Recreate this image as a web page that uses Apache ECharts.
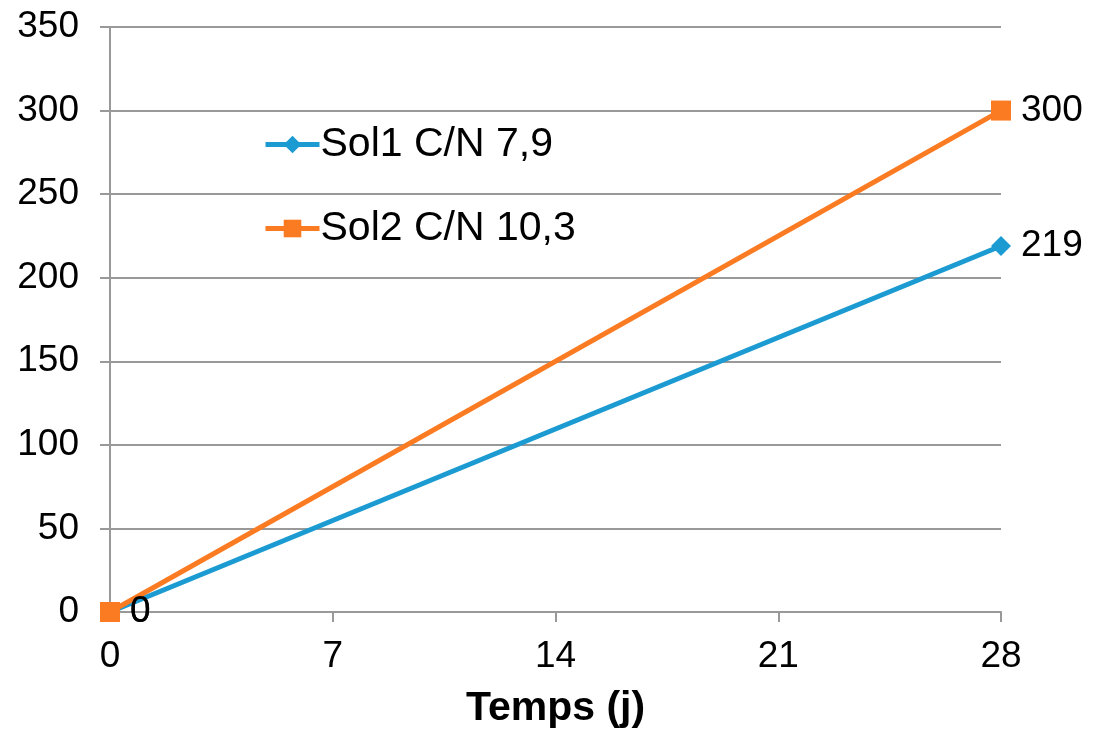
<!DOCTYPE html>
<html><head><meta charset="utf-8">
<script src="https://cdn.jsdelivr.net/npm/echarts@6/dist/echarts.min.js"></script>
<style>html,body{margin:0;padding:0;background:#fff;overflow:hidden}#c{width:1096px;height:734px}</style>
</head><body><div id="c"></div>
<script>
const days = [0, 28];
const sol1 = [0, 219];
const sol2 = [0, 300];
const seriesNames = ['Sol1 C/N 7,9', 'Sol2 C/N 10,3'];
const xTicks = [0, 7, 14, 21, 28];
const yTicks = [0, 50, 100, 150, 200, 250, 300, 350];
const xName = 'Temps (j)';

const font = 'Liberation Sans, Arial, sans-serif';
const chart = echarts.init(document.getElementById('c'));
const axisGray = '#999999';
chart.setOption({
  animation: false,
  grid: {left: 110, right: 95, top: 27, bottom: 122, containLabel: false, outerBoundsMode: 'none'},
  legend: {
    orient: 'vertical', left: 258, top: 119, itemGap: 43,
    itemWidth: 54, itemHeight: 22,
    lineStyle: {width: 5},
    textStyle: {fontFamily: font, fontSize: 41, color: '#000', padding: [0,0,0,-4]},
    data: seriesNames
  },
  xAxis: {
    type: 'value', min: xTicks[0], max: xTicks[xTicks.length-1], interval: 7,
    name: xName, nameLocation: 'middle', nameGap: 76,
    nameTextStyle: {fontFamily: font, fontSize: 41, fontWeight: 'bold', color: '#000'},
    axisLine: {show: true, lineStyle: {color: axisGray, width: 2}},
    axisTick: {show: true, length: 10, lineStyle: {color: axisGray, width: 2}},
    axisLabel: {fontFamily: font, fontSize: 37, color: '#000', margin: 26},
    splitLine: {show: false}
  },
  yAxis: {
    type: 'value', min: yTicks[0], max: yTicks[yTicks.length-1], interval: 50,
    axisLine: {show: true, lineStyle: {color: axisGray, width: 2}},
    axisTick: {show: true, length: 10, lineStyle: {color: axisGray, width: 2}},
    axisLabel: {fontFamily: font, fontSize: 37, color: '#000', margin: 31},
    splitLine: {show: true, lineStyle: {color: axisGray, width: 2}}
  },
  series: [
    {
      name: seriesNames[0], type: 'line',
      data: days.map((d,i)=>[d, sol1[i]]),
      symbol: 'diamond', symbolSize: 20,
      lineStyle: {color: '#1b9bd1', width: 5},
      itemStyle: {color: '#1b9bd1'},
      label: {show: true, position: 'right', distance: 10, fontFamily: font, fontSize: 37, color: '#000'},
      z: 2
    },
    {
      name: seriesNames[1], type: 'line',
      data: days.map((d,i)=>[d, sol2[i]]),
      symbol: 'rect', symbolSize: 20,
      lineStyle: {color: '#fb7b22', width: 5},
      itemStyle: {color: '#fb7b22'},
      label: {show: true, position: 'right', distance: 10, fontFamily: font, fontSize: 37, color: '#000'},
      z: 3
    }
  ]
});
</script>
</body></html>
